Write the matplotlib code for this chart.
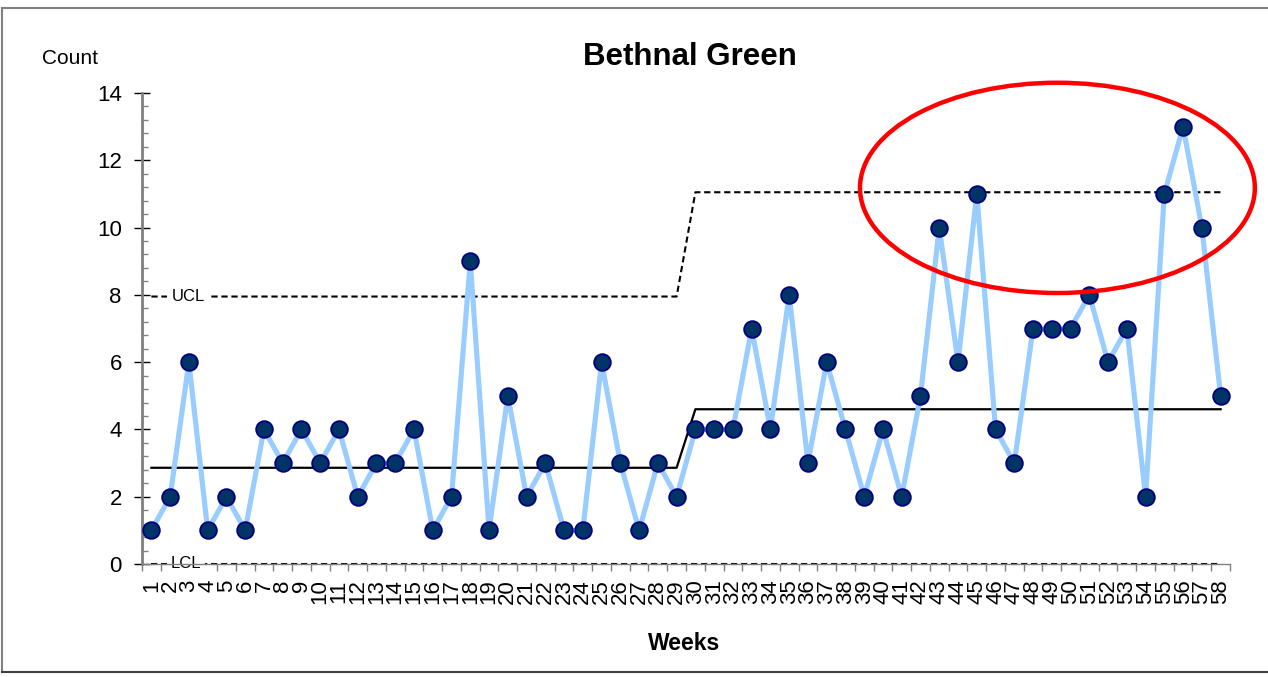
import matplotlib.pyplot as plt
import numpy as np
from matplotlib.patches import Ellipse
from matplotlib.ticker import MultipleLocator

plt.rcParams['font.family'] = ['Liberation Sans', 'DejaVu Sans']

# Weekly counts
weeks = list(range(1, 59))
counts = [1, 2, 6, 1, 2, 1, 4, 3, 4, 3, 4, 2, 3, 3, 4, 1, 2, 9, 1, 5,
          2, 3, 1, 1, 6, 3, 1, 3, 2, 4, 4, 4, 7, 4, 8, 3, 6, 4, 2, 4,
          2, 5, 10, 6, 11, 4, 3, 7, 7, 7, 8, 6, 7, 2, 11, 13, 10, 5]

# Control limits per phase (weeks 1-29, weeks 30-58)
phase_weeks = [(1, 29), (30, 58)]
mean_vals = [2.86, 4.6]
ucl_vals = [7.95, 11.05]
lcl_vals = [0, 0]


def step_xy(vals):
    xs, ys = [], []
    for (a, b), v in zip(phase_weeks, vals):
        xs += [a, b]
        ys += [v, v]
    return xs, ys


fig = plt.figure(figsize=(12.68, 6.77), dpi=100)
ax = fig.add_axes([142 / 1268, 1 - 564 / 677, (1230 - 142) / 1268, (564 - 93) / 677])

dash = (3, 1.8)
x, y = step_xy(ucl_vals)
ax.plot(x, y, color='black', lw=1.5, dashes=dash, zorder=2)
x, y = step_xy(lcl_vals)
ax.plot(x, y, color='black', lw=1.5, dashes=dash, zorder=2, clip_on=False)
x, y = step_xy(mean_vals)
ax.plot(x, y, color='black', lw=1.6, zorder=2)

ax.plot(weeks, counts, color='#99ccff', lw=3.7, zorder=3,
        marker='o', markersize=12, markerfacecolor='#003366',
        markeredgecolor='#000080', markeredgewidth=1.3)

ax.text(2.95, ucl_vals[0], 'UCL', fontsize=12, ha='center', va='center',
        bbox=dict(facecolor='white', edgecolor='none', pad=3), zorder=2.5)
ax.text(2.85, lcl_vals[0], 'LCL', fontsize=12, ha='center', va='center',
        bbox=dict(facecolor='white', edgecolor='none', pad=3), zorder=2.5)

# highlight of recent weeks above the limit
ell = Ellipse((49.3, 11.18), 21.05, 6.25, fill=False, edgecolor='red',
              lw=3.2, clip_on=False, zorder=4)
ax.add_patch(ell)

ax.set_xlim(0.5, 58.5)
ax.set_ylim(0, 14)
ax.set_xticks(np.arange(0.5, 59, 1))
ax.set_xticklabels([])
ax.set_xticks(weeks, minor=True)
ax.set_xticklabels([str(w) for w in weeks], minor=True, rotation=90, fontsize=16)
ax.tick_params(axis='x', which='major', direction='out', length=5, width=1, color='#808080')
ax.tick_params(axis='x', which='minor', length=0, pad=11)

ax.yaxis.set_major_locator(MultipleLocator(2))
ax.yaxis.set_minor_locator(MultipleLocator(0.4))
ax.tick_params(axis='y', which='major', direction='inout', length=11, width=1,
               labelsize=16, pad=9)
ax.tick_params(axis='y', which='minor', direction='in', length=4, width=1, color='#808080')

for s in ['top', 'right']:
    ax.spines[s].set_visible(False)
ax.spines['left'].set_color('#808080')
ax.spines['left'].set_linewidth(2)
ax.spines['bottom'].set_color('#808080')
ax.spines['bottom'].set_linewidth(1)

fig.text(690 / 1268, 1 - 57 / 677, 'Bethnal Green', fontsize=22.5, fontweight='bold',
         ha='center', va='center')
fig.text(42 / 1268, 1 - 58 / 677, 'Count', fontsize=15, ha='left', va='center')
fig.text(684 / 1268, 1 - 644 / 677, 'Weeks', fontsize=16.5, fontweight='bold',
         ha='center', va='center')

# outer border
fig.add_artist(plt.Line2D([2 / 1268, 2 / 1268], [1 - 8 / 677, 1 - 672 / 677],
                          transform=fig.transFigure, color='#808080', lw=1.5))
fig.add_artist(plt.Line2D([2 / 1268, 1], [1 - 8 / 677, 1 - 8 / 677],
                          transform=fig.transFigure, color='#808080', lw=1.5))
fig.add_artist(plt.Line2D([2 / 1268, 1], [1 - 672 / 677, 1 - 672 / 677],
                          transform=fig.transFigure, color='#404040', lw=1.5))

fig.savefig('out.png', dpi=100)
